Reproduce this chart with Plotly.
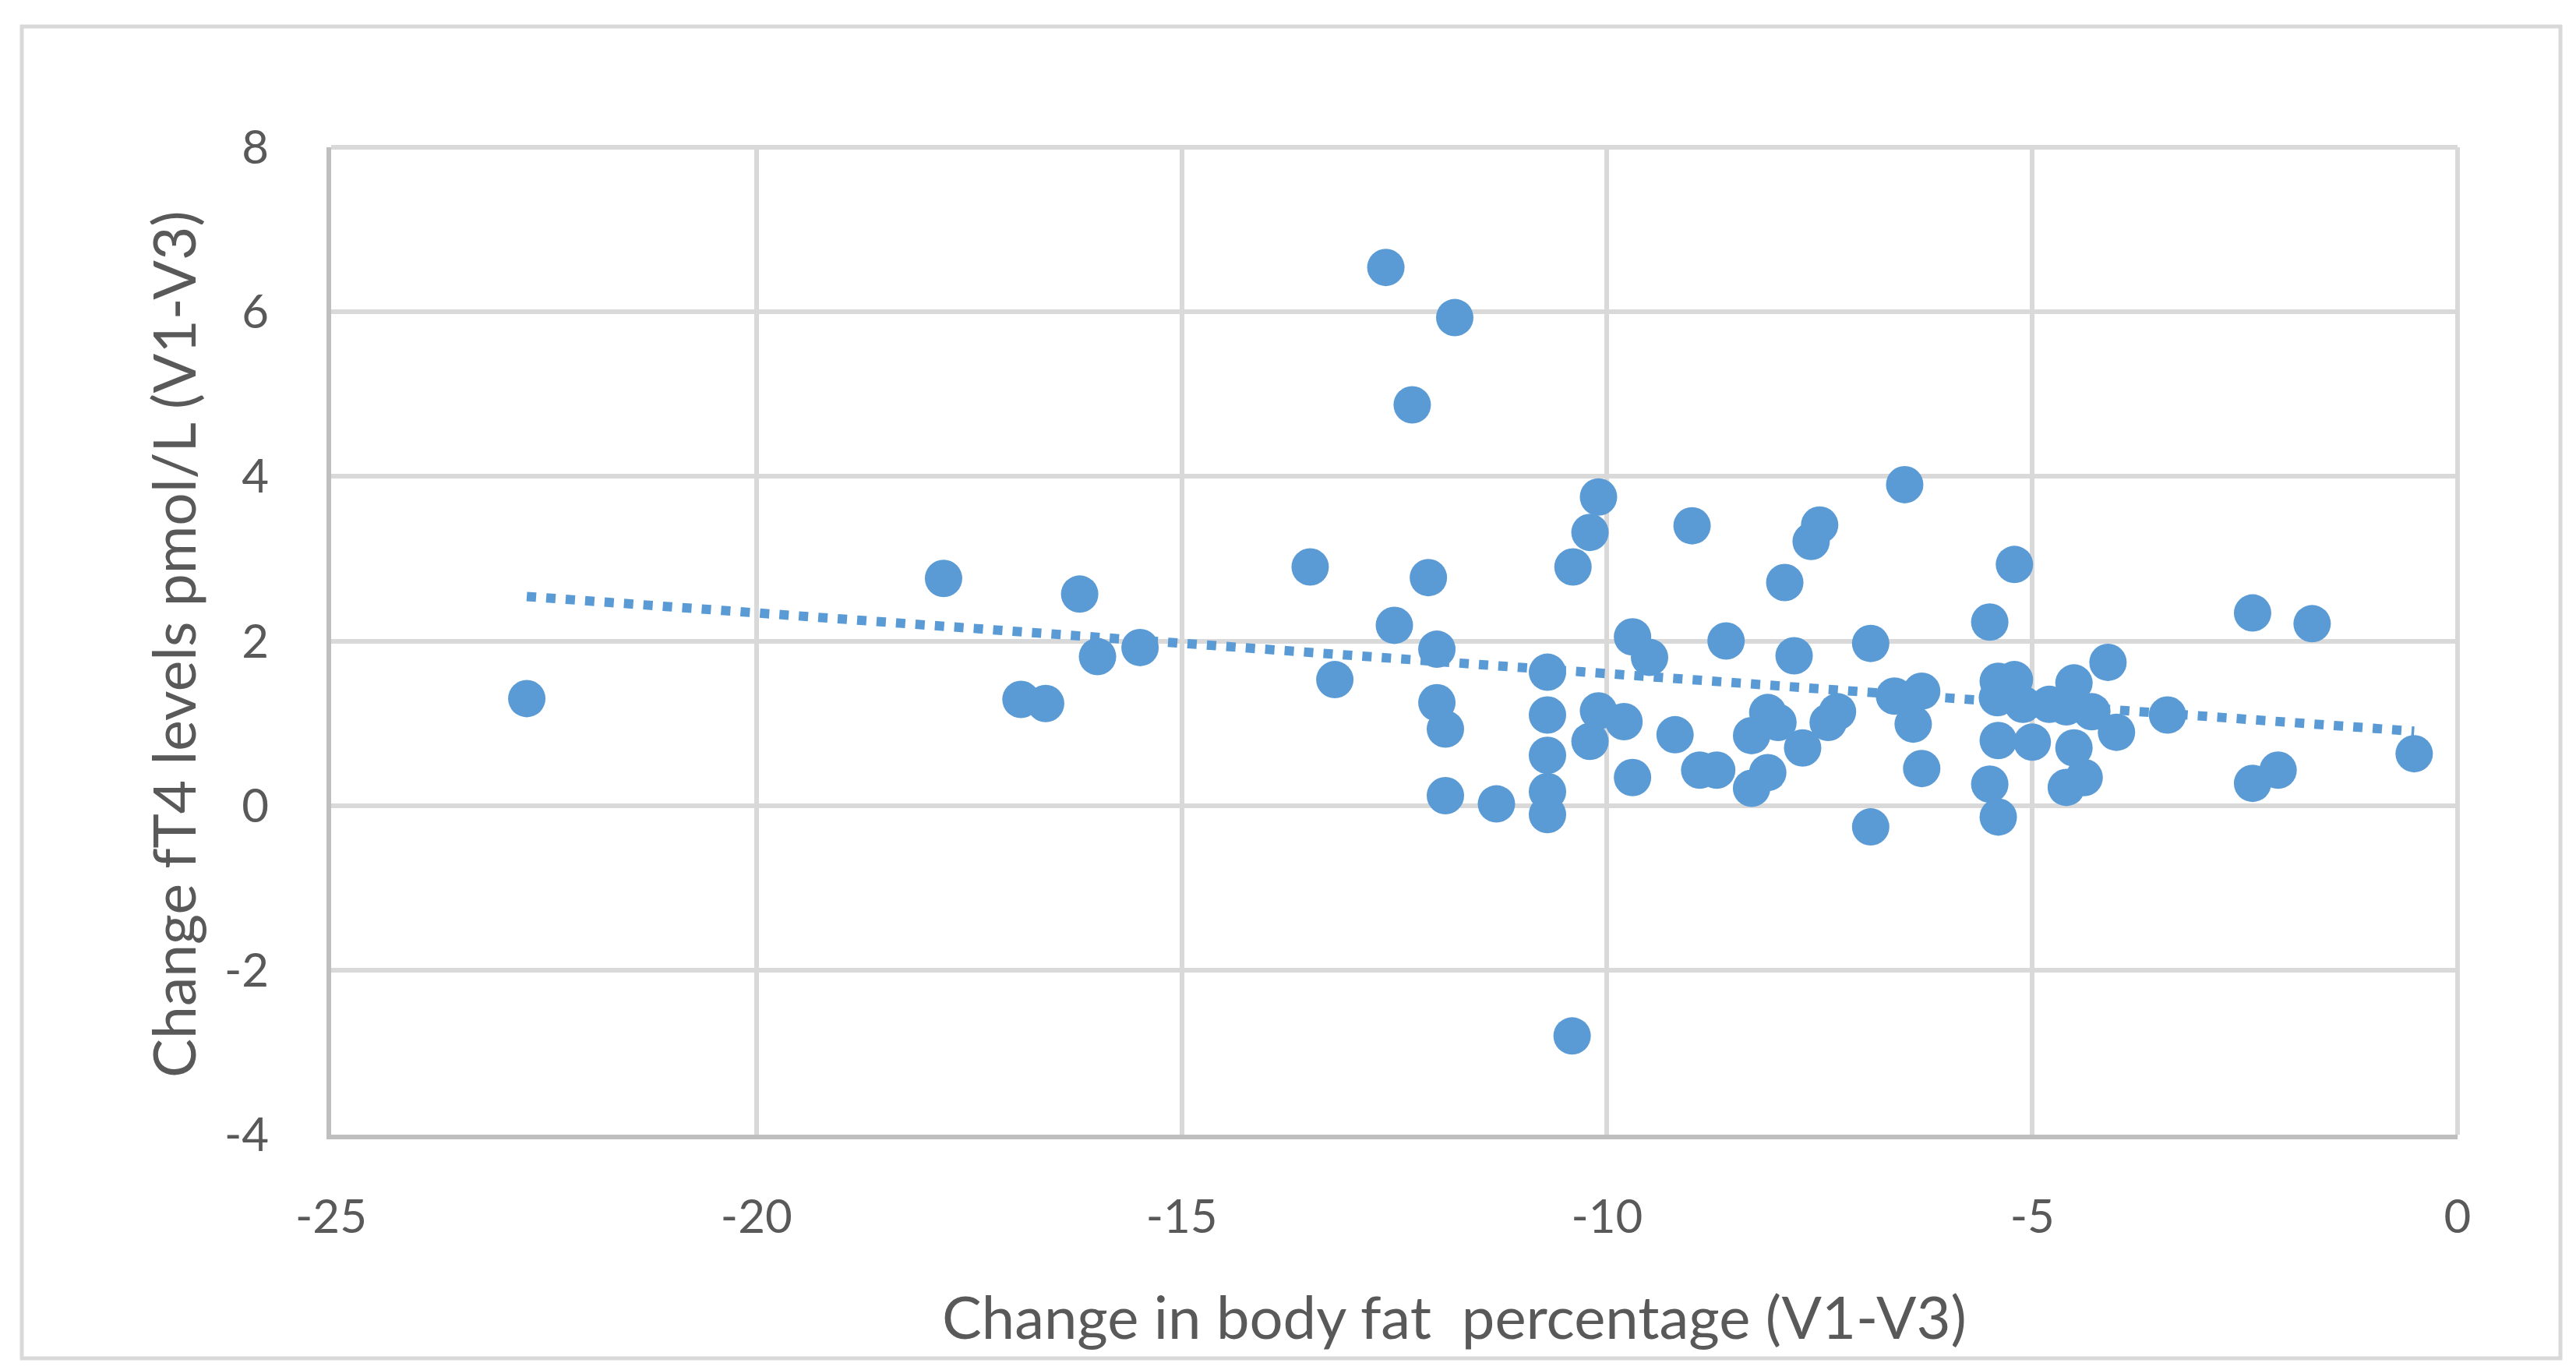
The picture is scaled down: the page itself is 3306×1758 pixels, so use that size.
import numpy as np
import plotly.graph_objects as go

# Change in body fat percentage (V1-V3)
body_fat_change = [
    -22.70, -17.80, -16.89, -16.60, -16.20, -15.99, -15.49, -13.49, -13.20, -12.60,
    -12.50, -12.29, -12.10, -12.00, -12.00, -11.90, -11.90, -11.79, -11.30, -10.70,
    -10.70, -10.70, -10.70, -10.70, -10.40, -10.41, -10.20, -10.20, -10.10, -10.10,
    -9.80, -9.70, -9.70, -9.50, -9.20, -9.00, -8.91, -8.71, -8.60, -8.30,
    -8.30, -8.11, -8.11, -7.99, -7.91, -7.80, -7.70, -7.60, -7.50, -7.40,
    -7.29, -6.90, -6.90, -6.62, -6.50, -6.40, -6.30, -6.30, -5.50, -5.50,
    -5.40, -5.41, -5.40, -5.40, -5.21, -5.21, -5.11, -5.00, -4.80, -4.60,
    -4.51, -4.51, -4.39, -4.60, -4.30, -4.11, -4.01, -3.41, -2.41, -2.41,
    -2.11, -1.71, -0.51,
]
# Change fT4 levels pmol/L (V1-V3)
ft4_change = [
    1.30, 2.76, 1.29, 1.24, 2.57, 1.81, 1.92, 2.90, 1.53, 6.54,
    2.19, 4.87, 2.77, 1.90, 1.25, 0.93, 0.12, 5.93, 0.02, 1.62,
    1.10, 0.61, 0.17, -0.11, 2.90, -2.80, 3.32, 0.78, 3.75, 1.15,
    1.02, 2.05, 0.34, 1.80, 0.86, 3.40, 0.43, 0.43, 2.00, 0.85,
    0.21, 1.13, 0.40, 1.01, 2.71, 1.82, 0.70, 3.21, 3.41, 1.01,
    1.14, 1.97, -0.26, 1.33, 3.90, 0.99, 1.39, 0.45, 2.23, 0.26,
    1.51, 1.31, 0.79, -0.14, 2.93, 1.53, 1.23, 0.77, 1.23, 1.20,
    1.49, 0.70, 0.34, 0.22, 1.14, 1.74, 0.89, 1.10, 2.34, 0.27,
    0.43, 2.21, 0.63,
]

x_ticks = [-25, -20, -15, -10, -5, 0]
y_ticks = [-4, -2, 0, 2, 4, 6, 8]

x_title = "Change in body fat  percentage (V1-V3)"
y_title = "Change fT4 levels pmol/L (V1-V3)"

blue = "#5B9BD5"
grid = "#D9D9D9"
axis_line = "#BFBFBF"
text_col = "#595959"
font_family = "Lato, 'Open Sans', sans-serif"

# linear trendline fitted to the data
xa = np.array(body_fat_change)
ya = np.array(ft4_change)
slope, intercept = np.polyfit(xa, ya, 1)
trend_x = [xa.min(), xa.max()]
trend_y = [slope * v + intercept for v in trend_x]

fig = go.Figure()
fig.add_trace(go.Scatter(
    x=trend_x, y=trend_y, mode="lines",
    line=dict(color=blue, width=12, dash="12px,13px"),
    hoverinfo="skip", showlegend=False,
))
fig.add_trace(go.Scatter(
    x=body_fat_change, y=ft4_change, mode="markers",
    marker=dict(color=blue, size=48, line=dict(width=0)),
    showlegend=False,
))

W, H = 3306, 1758
L, R, T, B = 417, 160, 181, 310
pw, ph = W - L - R, H - T - B

def px_x(p):
    return (p - L) / pw

def px_y(p):
    return (H - B - p) / ph

fig.update_layout(
    width=W, height=H,
    margin=dict(l=L, r=R, t=T, b=B),
    paper_bgcolor="white", plot_bgcolor="white",
    font=dict(family=font_family, color=text_col),
    xaxis=dict(
        range=[-25, 0], tickvals=x_ticks, ticktext=[str(v) for v in x_ticks],
        showgrid=True, gridcolor=grid, gridwidth=6,
        zeroline=False, showline=True, linecolor=axis_line, linewidth=6,
        ticks="", ticklabelstandoff=48,
        tickfont=dict(size=60, color=text_col, family=font_family),
    ),
    yaxis=dict(
        range=[-4, 8], tickvals=y_ticks, ticktext=[str(v) for v in y_ticks],
        showgrid=True, gridcolor=grid, gridwidth=6,
        zeroline=False, showline=True, linecolor=axis_line, linewidth=6,
        ticks="", ticklabelstandoff=62,
        tickfont=dict(size=60, color=text_col, family=font_family),
    ),
    shapes=[
        # top and right plot-area borders (gridline style)
        dict(type="line", xref="paper", yref="paper", x0=0, x1=1, y0=1, y1=1,
             line=dict(color=grid, width=6), layer="below"),
        dict(type="line", xref="paper", yref="paper", x0=1, x1=1, y0=0, y1=1,
             line=dict(color=grid, width=6), layer="below"),
        # chart area border
        dict(type="rect", xref="paper", yref="paper",
             x0=px_x(20), x1=px_x(3278), y0=px_y(1735), y1=px_y(26),
             line=dict(color=grid, width=5), fillcolor="rgba(0,0,0,0)", layer="below"),
    ],
    annotations=[
        dict(text=x_title, xref="paper", yref="paper", x=px_x(1858), y=px_y(1680),
             xanchor="center", yanchor="middle", showarrow=False,
             font=dict(size=76, color=text_col, family=font_family)),
        dict(text=y_title, xref="paper", yref="paper", x=px_x(214), y=px_y(819),
             xanchor="center", yanchor="middle", showarrow=False, textangle=-90,
             font=dict(size=75, color=text_col, family=font_family)),
    ],
)

fig.write_html("out.html")
